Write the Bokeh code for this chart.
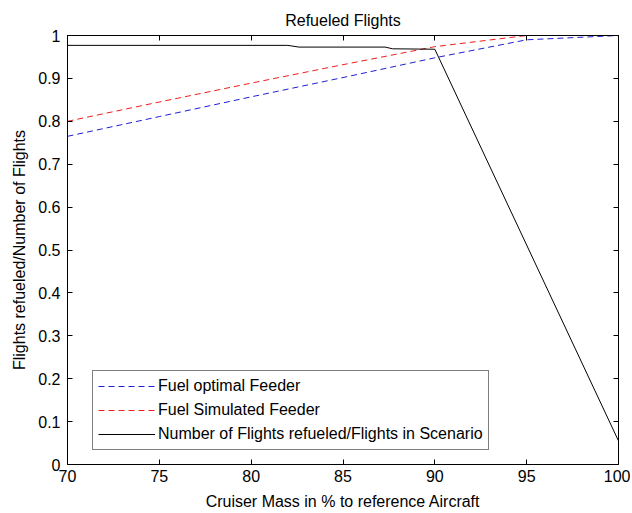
from bokeh.plotting import figure
from bokeh.models import Range1d, FixedTicker, LinearAxis, Legend, LegendItem
from bokeh.embed import file_html
from bokeh.resources import INLINE

# ---- data ----
mass = [70, 75, 80, 85, 90, 95, 100]
fuel_optimal = [0.765, 0.811, 0.857, 0.902, 0.948, 0.990, 1.000]
fuel_simulated = [0.800, 0.845, 0.889, 0.932, 0.974, 1.000, 1.000]

mass_flights = [70, 82.0, 82.6, 87.3, 87.7, 90, 100]
flights_ratio = [0.977, 0.977, 0.973, 0.973, 0.969, 0.968, 0.055]

x_ticks = [70, 75, 80, 85, 90, 95, 100]
y_ticks = [0, 0.1, 0.2, 0.3, 0.4, 0.5, 0.6, 0.7, 0.8, 0.9, 1]
y_tick_labels = ["0", "0.1", "0.2", "0.3", "0.4", "0.5", "0.6", "0.7", "0.8", "0.9", "1"]

title_text = "Refueled Flights"
x_label = "Cruiser Mass in % to reference Aircraft"
y_label = "Flights refueled/Number of Flights"
series_labels = ["Fuel optimal Feeder", "Fuel Simulated Feeder",
                 "Number of Flights refueled/Flights in Scenario"]

FONT = "Liberation Sans"
FS = "16px"

p = figure(width=630, height=513, output_backend="svg", toolbar_location=None,
           x_range=Range1d(70, 100), y_range=Range1d(0, 1),
           min_border_left=67, min_border_right=12, min_border_top=35,
           min_border_bottom=49, background_fill_color="white",
           border_fill_color="white")

p.title.text = title_text
p.title.align = "center"
p.title.text_font = FONT
p.title.text_font_size = FS
p.title.text_font_style = "normal"
p.title.text_color = "black"
p.title.standoff = 13

p.xgrid.visible = False
p.ygrid.visible = False
p.outline_line_color = "black"

r_blue = p.line(mass, fuel_optimal, line_color="#1f1fd0", line_width=1, line_dash="6 4")
r_red = p.line(mass, fuel_simulated, line_color="#f01e1e", line_width=1, line_dash="6 4")
r_black = p.line(mass_flights, flights_ratio, line_color="black", line_width=1)

def style_axis(ax, show_labels=True):
    ax.axis_line_color = "black"
    ax.major_tick_line_color = "black"
    ax.major_tick_in = 5
    ax.major_tick_out = 0
    ax.minor_tick_line_color = None
    ax.major_label_text_font = FONT
    ax.axis_label_text_font = FONT
    ax.axis_label_text_font_size = FS
    ax.axis_label_text_font_style = "normal"
    ax.axis_label_text_color = "black"
    if show_labels:
        ax.major_label_text_font_size = FS
        ax.major_label_text_color = "black"
    else:
        ax.major_label_text_font_size = "1px"
        ax.major_label_text_color = None
        ax.major_label_standoff = 0

xa = p.xaxis[0]
xa.ticker = FixedTicker(ticks=x_ticks)
xa.axis_label = x_label
style_axis(xa)
xa.major_label_standoff = 5
xa.axis_label_standoff = 8

ya = p.yaxis[0]
ya.ticker = FixedTicker(ticks=y_ticks)
ya.major_label_overrides = {t: s for t, s in zip(y_ticks, y_tick_labels)}
ya.axis_label = y_label
style_axis(ya)
ya.major_label_standoff = 7
ya.axis_label_standoff = 7

top_ax = LinearAxis(ticker=FixedTicker(ticks=x_ticks))
style_axis(top_ax, show_labels=False)
p.add_layout(top_ax, "above")

right_ax = LinearAxis(ticker=FixedTicker(ticks=y_ticks))
style_axis(right_ax, show_labels=False)
p.add_layout(right_ax, "right")

legend = Legend(items=[
    LegendItem(label=series_labels[0], renderers=[r_blue]),
    LegendItem(label=series_labels[1], renderers=[r_red]),
    LegendItem(label=series_labels[2], renderers=[r_black]),
], location=(25, 14))
legend.label_text_font = FONT
legend.label_text_font_size = FS
legend.label_text_color = "black"
legend.border_line_color = "black"
legend.border_line_width = 1
legend.background_fill_color = "white"
legend.background_fill_alpha = 1
legend.padding = 5
legend.spacing = 4
legend.margin = 0
legend.glyph_width = 57
legend.glyph_height = 20
legend.label_height = 20
legend.label_standoff = 3
p.add_layout(legend, "center")

open("out.html", "w").write(file_html(p, INLINE))
